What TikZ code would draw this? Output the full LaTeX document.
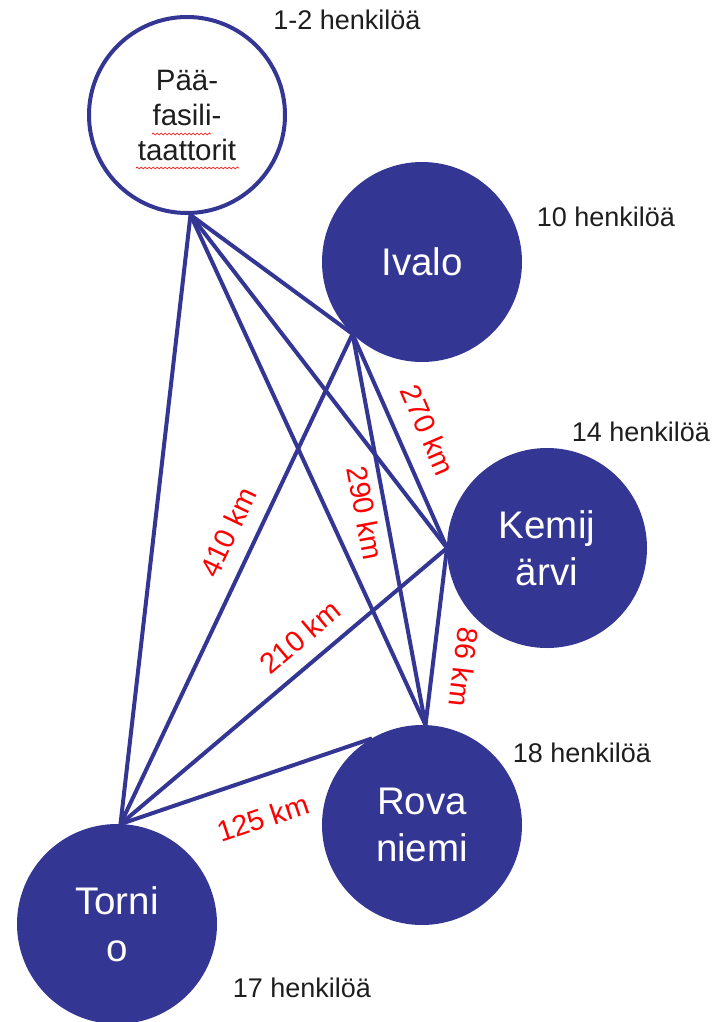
\documentclass[tikz,border=0pt]{standalone}
\usepackage{fontspec}
\setmainfont{Liberation Sans}
\usetikzlibrary{decorations.pathmorphing}
\definecolor{navy}{RGB}{52,54,148}
\definecolor{ink}{RGB}{30,30,30}
\begin{document}
\begin{tikzpicture}[x=1pt,y=-1pt,
  city/.style={circle, fill=navy, draw=navy, line width=4pt, minimum size=196pt, inner sep=0pt, text=white, font=\fontsize{38.5}{47}\selectfont, align=center},
  hub/.style={circle, fill=white, draw=navy, line width=4pt, minimum size=196pt, inner sep=0pt, text=ink, font=\fontsize{29.5}{35}\selectfont, align=center},
  link/.style={draw=navy, line width=4pt},
  count/.style={font=\fontsize{27}{30}\selectfont, text=ink, inner sep=0pt},
  dist/.style={font=\fontsize{29}{32}\selectfont, text=red, inner sep=0pt},
  squiggle/.style={draw=red, line width=0.7pt, decorate, decoration={snake, amplitude=1pt, segment length=4pt}},
]
\useasboundingbox (0,0) rectangle (723,1022);

\node[hub]  (hb) at (187,115) {Pää-\\fasili-\\taattorit};
\node[city] (iv) at (422,262) {Ivalo};
\node[city] (ke) at (547,548) {Kemij\\ärvi};
\node[city] (ro) at (422,825) {Rova\\niemi};
\node[city] (to) at (117,924) {Torni\\o};

\draw[squiggle] (152,134) -- (211,134);
\draw[squiggle] (136,168) -- (239,168);

\draw[link] (hb.-88) -- (iv.226);
\draw[link] (hb.-88) -- (ke.180);
\draw[link] (hb.-88) -- (ro.88);
\draw[link] (hb.-88) -- (to.88);
\draw[link] (iv.226) -- (to.88);
\draw[link] (iv.226) -- (ke.180);
\draw[link] (iv.226) -- (ro.88);
\draw[link] (ke.180) -- (to.88);
\draw[link] (ke.180) -- (ro.88);
\draw[link] (ro.120) -- (to.88);

\node[count] (c1) at (347,20) {1-2 henkilöä};
\node[count] (c2) at (606,217) {10 henkilöä};
\node[count] (c3) at (641,432) {14 henkilöä};
\node[count] (c4) at (582,753) {18 henkilöä};
\node[count] (c5) at (302,988) {17 henkilöä};

\node[dist, rotate=64.7]  (d410) at (228,532) {410 km};
\node[dist, rotate=-79.4] (d290) at (365,513) {290 km};
\node[dist, rotate=-66.6] (d270) at (428,430) {270 km};
\node[dist, rotate=-96.5] (d86)  at (464,667) {86 km};
\node[dist, rotate=40.2]  (d210) at (300,637) {210 km};
\node[dist, rotate=18.6]  (d125) at (263,818) {125 km};
\end{tikzpicture}
\end{document}
